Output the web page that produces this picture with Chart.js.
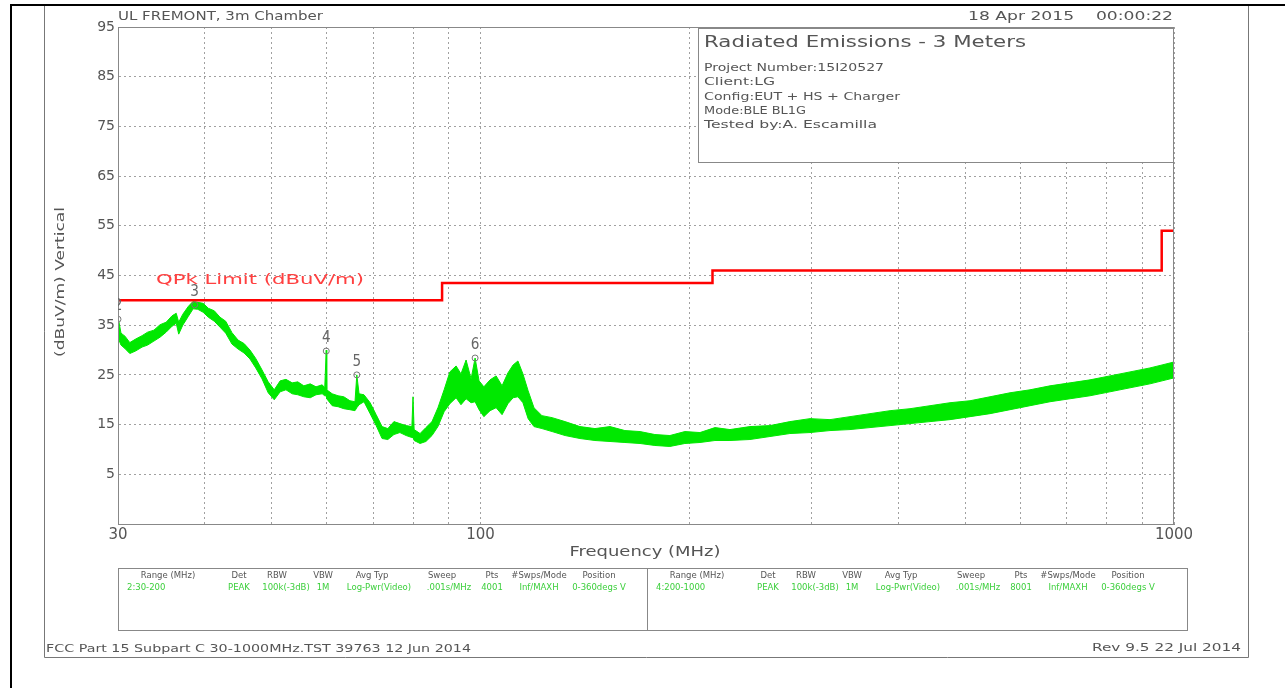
<!DOCTYPE html>
<html lang="en">
<head>
<meta charset="UTF-8" />
<title>Radiated Emissions - 3 Meters</title>
<script src="https://cdn.jsdelivr.net/npm/chart.js"></script>
<style>
  html, body { margin: 0; padding: 0; background: #fff; }
  canvas { display: block; }
</style>
</head>
<body>
<canvas id="emiChart" width="1285" height="688"></canvas>
<script>
// peak trace (MHz, dBuV/m): lower and upper edge of the noisy band
const traceFreq = [
  30.0, 30.3, 30.7, 31.2, 31.8, 32.5, 33.1, 33.8, 34.5, 35.2,
  35.9, 36.4, 36.7, 37.2, 37.9, 38.5, 39.1, 39.8, 40.5, 41.3,
  42.1, 42.9, 43.8, 44.7, 45.6, 46.5, 47.4, 48.4, 49.4, 50.4,
  51.4, 52.4, 53.5, 54.5, 55.6, 56.8, 57.9, 59.1, 59.6, 59.9,
  60.0, 61.1, 62.3, 63.5, 64.8, 65.9, 66.3, 66.8, 67.9, 69.3,
  70.7, 72.1, 73.5, 75.0, 76.5, 78.1, 79.6, 79.9, 80.2, 81.8,
  83.4, 85.1, 86.8, 88.6, 90.3, 92.2, 93.7, 95.3, 96.9, 98.2,
  99.5, 101.1, 103.2, 105.3, 107.4, 109.5, 111.4, 113.2, 115.1, 117.1,
  119.4, 122.6, 126.8, 132.4, 139.1, 146.2, 153.7, 161.5, 169.8, 178.4,
  187.5, 197.1, 207.2, 217.8, 228.9, 244.6, 261.4, 279.3, 298.6, 319.1,
  341.0, 364.4, 389.5, 416.2, 444.8, 475.3, 508.0, 542.8, 580.1, 619.9,
  662.5, 708.1, 756.6, 808.5, 864.1, 923.2, 961.1, 1000
];
const traceLow = [
  32.5, 31.0, 30.3, 29.3, 29.8, 30.6, 31.0, 31.8, 32.6, 33.6,
  34.8, 35.4, 33.2, 35.0, 36.8, 38.3, 38.2, 37.6, 36.6, 35.8,
  34.6, 33.4, 31.2, 30.2, 29.4, 28.2, 26.4, 24.2, 21.4, 20.0,
  21.6, 22.0, 21.2, 21.0, 20.6, 20.4, 21.0, 21.2, 20.8, 20.8,
  20.2, 18.8, 18.6, 18.2, 18.0, 17.8, 18.4, 19.0, 19.6, 17.2,
  14.8, 12.2, 12.0, 13.0, 13.4, 12.8, 12.4, 12.4, 11.8, 11.2,
  11.6, 12.8, 14.6, 17.6, 19.2, 20.4, 19.0, 20.2, 19.4, 19.6,
  18.0, 16.6, 17.8, 18.4, 17.0, 19.2, 20.4, 20.6, 19.4, 16.2,
  14.6, 14.2, 13.6, 12.8, 12.2, 11.8, 11.6, 11.4, 11.2, 10.8,
  10.6, 11.2, 11.4, 11.8, 11.8, 12.0, 12.6, 13.2, 13.4, 13.8,
  14.0, 14.4, 14.8, 15.2, 15.6, 16.0, 16.6, 17.2, 18.0, 18.8,
  19.6, 20.2, 20.8, 21.6, 22.4, 23.2, 23.8, 24.4
];
const traceHigh = [
  36.7, 33.4, 32.8, 31.5, 32.2, 32.9, 33.6, 34.0, 35.1, 35.6,
  36.9, 37.4, 35.6, 37.2, 38.8, 39.8, 39.6, 39.4, 38.4, 37.9,
  36.6, 35.8, 33.5, 32.0, 31.3, 30.0, 28.3, 26.0, 23.6, 22.0,
  23.8, 24.1, 23.4, 23.6, 22.8, 23.2, 22.6, 23.0, 22.4, 30.0,
  22.0, 21.2, 20.8, 20.6, 19.8, 19.6, 25.0, 21.2, 21.0, 19.4,
  17.0, 14.6, 14.2, 15.6, 15.2, 14.8, 14.6, 20.6, 14.0, 13.2,
  14.4, 15.6, 18.4, 22.0, 25.6, 26.8, 25.2, 28.0, 24.2, 28.4,
  23.8, 22.6, 24.0, 24.8, 22.8, 25.4, 27.0, 27.8, 25.2, 21.8,
  18.4, 16.8, 16.4, 15.6, 14.6, 14.2, 14.6, 13.8, 13.6, 13.0,
  12.8, 13.6, 13.4, 14.4, 14.0, 14.6, 14.8, 15.6, 16.2, 16.0,
  16.6, 17.2, 17.8, 18.2, 18.8, 19.4, 19.8, 20.6, 21.4, 22.0,
  22.8, 23.4, 24.0, 24.8, 25.6, 26.4, 27.0, 27.6
];

// QPk limit line
const limitFreq = [30, 88, 88, 216, 216, 960, 960, 1000];
const limitLevel = [40, 40, 43.5, 43.5, 46, 46, 54, 54];

// markers
const markerFreq = [30, 38.7, 59.9, 66.3, 98.2];
const markerLevel = [36.2, 39.1, 29.8, 25.0, 28.4];
const markerLabel = ['2', '3', '4', '5', '6'];

// axes
const xGridTicks = [30, 40, 50, 60, 70, 80, 90, 100, 200, 300, 400, 500, 600, 700, 800, 900, 1000];
const xLabelTicks = [30, 100, 1000];
const yTicks = [-5, 5, 15, 25, 35, 45, 55, 65, 75, 85, 95];

// texts
const siteText = 'UL FREMONT, 3m Chamber';
const dateText = '18 Apr 2015    00:00:22';
const boxTitle = 'Radiated Emissions - 3 Meters';
const boxLines = ['Project Number:15I20527', 'Client:LG', 'Config:EUT + HS + Charger', 'Mode:BLE BL1G', 'Tested by:A. Escamilla'];
const limitText = 'QPk Limit (dBuV/m)';
const yTitle = '(dBuV/m) Vertical';
const xTitle = 'Frequency (MHz)';
const tableHead = ['Range (MHz)', 'Det', 'RBW', 'VBW', 'Avg Typ', 'Sweep', 'Pts', '#Swps/Mode', 'Position'];
const tableLeft = ['2:30-200', 'PEAK', '100k(-3dB)', '1M', 'Log-Pwr(Video)', '.001s/MHz', '4001', 'Inf/MAXH', '0-360degs V'];
const tableRight = ['4:200-1000', 'PEAK', '100k(-3dB)', '1M', 'Log-Pwr(Video)', '.001s/MHz', '8001', 'Inf/MAXH', '0-360degs V'];
const footLeft = 'FCC Part 15 Subpart C 30-1000MHz.TST 39763 12 Jun 2014';
const footRight = 'Rev 9.5 22 Jul 2014';

const GREEN = 'rgb(0, 232, 0)';
const FONT = '"DejaVu Sans", sans-serif';

function pts(xs, ys) {
  return xs.map((x, i) => ({ x: x, y: ys[i] }));
}

// draws a text stretched horizontally to a given width if w is set
function label(ctx, s, x, y, o) {
  o = o || {};
  ctx.save();
  ctx.font = (o.size || 12) + 'px ' + FONT;
  ctx.fillStyle = o.color || '#555';
  ctx.textBaseline = 'middle';
  ctx.textAlign = 'left';
  const w = ctx.measureText(s).width;
  const sx = o.w ? o.w / w : (o.sx || 1);
  ctx.translate(x, y);
  if (o.rot) ctx.rotate(o.rot);
  ctx.scale(sx, 1);
  const off = o.align === 'right' ? -w : o.align === 'center' ? -w / 2 : 0;
  ctx.fillText(s, off, 0);
  ctx.restore();
}

const sheet = {
  id: 'sheet',
  afterDraw(chart) {
    const ctx = chart.ctx;
    const a = chart.chartArea;
    const xs = chart.scales.x, ys = chart.scales.y;
    ctx.save();

    // page frame
    ctx.strokeStyle = '#000';
    ctx.lineWidth = 2;
    ctx.beginPath();
    ctx.moveTo(11, 688); ctx.lineTo(11, 5); ctx.lineTo(1285, 5);
    ctx.stroke();
    ctx.strokeStyle = '#777';
    ctx.lineWidth = 1;
    ctx.beginPath();
    ctx.moveTo(44.5, 6); ctx.lineTo(44.5, 657.5); ctx.lineTo(1248.5, 657.5); ctx.lineTo(1248.5, 6);
    ctx.stroke();

    // plot frame
    ctx.strokeStyle = '#888';
    ctx.strokeRect(a.left + 0.5, a.top + 0.5, a.right - a.left - 1, a.bottom - a.top);

    // header
    label(ctx, siteText, 118, 17, { size: 12, w: 205 });
    label(ctx, dateText, 1173, 17, { size: 12, w: 205, align: 'right' });

    // info box
    ctx.fillStyle = '#fff';
    ctx.fillRect(698, 28, 476, 134);
    ctx.strokeStyle = '#888';
    ctx.strokeRect(698.5, 28.5, 475, 134);
    label(ctx, boxTitle, 704, 43, { size: 15, w: 322 });
    const boxW = [180, 71, 196, 102, 173];
    boxLines.forEach((s, i) => label(ctx, s, 704, 68 + i * 14.4, { size: 10.5, w: boxW[i] }));

    // limit caption
    label(ctx, limitText, 156, 280, { size: 14, w: 208, color: '#ff4040' });

    // marker numbers
    ctx.save();
    ctx.beginPath();
    ctx.rect(a.left, a.top, a.right - a.left, a.bottom - a.top);
    ctx.clip();
    markerFreq.forEach((f, i) => {
      const px = xs.getPixelForValue(f);
      const py = ys.getPixelForValue(markerLevel[i]);
      label(ctx, markerLabel[i], px, py - 13, { size: 16, color: '#666', align: 'center', sx: 0.85 });
    });
    ctx.restore();

    // axis titles
    label(ctx, yTitle, 61, 282, { size: 12, w: 150, align: 'center', rot: -Math.PI / 2 });
    label(ctx, xTitle, 645, 552, { size: 14, w: 151, align: 'center' });

    // settings table
    ctx.strokeStyle = '#888';
    ctx.strokeRect(118.5, 568.5, 1069, 62);
    ctx.beginPath();
    ctx.moveTo(647.5, 568.5); ctx.lineTo(647.5, 630.5);
    ctx.stroke();
    const headX = [168, 239, 277, 323, 372, 442, 492, 539, 599];
    const cellX = [127, 239, 286, 323, 379, 449, 492, 539, 599];
    [0, 529].forEach((dx, half) => {
      const row = half ? tableRight : tableLeft;
      tableHead.forEach((s, i) => label(ctx, s, headX[i] + dx, 576, { size: 8.5, color: '#555', align: 'center' }));
      row.forEach((s, i) => label(ctx, s, cellX[i] + dx, 587.5, { size: 8.5, color: '#3ccf3c', align: i ? 'center' : 'left' }));
    });

    // footer
    label(ctx, footLeft, 46, 649, { size: 11, w: 425 });
    label(ctx, footRight, 1241, 648, { size: 11, w: 149, align: 'right' });

    ctx.restore();
  }
};

new Chart(document.getElementById('emiChart'), {
  type: 'line',
  data: {
    datasets: [
      {
        type: 'scatter',
        label: 'Markers',
        data: pts(markerFreq, markerLevel),
        pointStyle: 'circle',
        pointRadius: 3,
        borderColor: '#777',
        backgroundColor: 'rgba(0,0,0,0)',
        borderWidth: 1
      },
      {
        label: 'QPk Limit',
        data: pts(limitFreq, limitLevel),
        borderColor: '#ff0000',
        borderWidth: 2.5,
        pointRadius: 0,
        fill: false
      },
      {
        label: 'Peak high',
        data: pts(traceFreq, traceHigh),
        borderColor: GREEN,
        backgroundColor: GREEN,
        borderWidth: 1,
        pointRadius: 0,
        fill: '+1'
      },
      {
        label: 'Peak low',
        data: pts(traceFreq, traceLow),
        borderColor: GREEN,
        borderWidth: 1,
        pointRadius: 0,
        fill: false
      }
    ]
  },
  options: {
    responsive: false,
    animation: false,
    events: [],
    layout: { padding: { top: 27, right: 111, bottom: 134, left: 0 } },
    plugins: {
      legend: { display: false },
      tooltip: { enabled: false }
    },
    scales: {
      x: {
        type: 'logarithmic',
        min: 30,
        max: 1000,
        afterBuildTicks: s => { s.ticks = xGridTicks.map(v => ({ value: v })); },
        afterFit: s => { s.height = 30; },
        ticks: {
          autoSkip: false,
          maxRotation: 0,
          padding: 2,
          color: '#555',
          font: { family: FONT, size: 15 },
          callback: v => xLabelTicks.includes(v) ? String(v) : ''
        },
        grid: { color: '#a0a0a0', lineWidth: 1, drawTicks: false },
        border: { display: true, color: '#888', dash: [2, 3] }
      },
      y: {
        min: -5,
        max: 95,
        afterBuildTicks: s => { s.ticks = yTicks.map(v => ({ value: v })); },
        afterFit: s => { s.width = 118; },
        ticks: {
          padding: 3,
          color: '#555',
          font: { family: FONT, size: 14 },
          callback: v => v < 0 ? '' : String(v)
        },
        grid: { color: '#a0a0a0', lineWidth: 1, drawTicks: false },
        border: { display: true, color: '#888', dash: [2, 3] }
      }
    }
  },
  plugins: [sheet]
});
</script>
</body>
</html>
